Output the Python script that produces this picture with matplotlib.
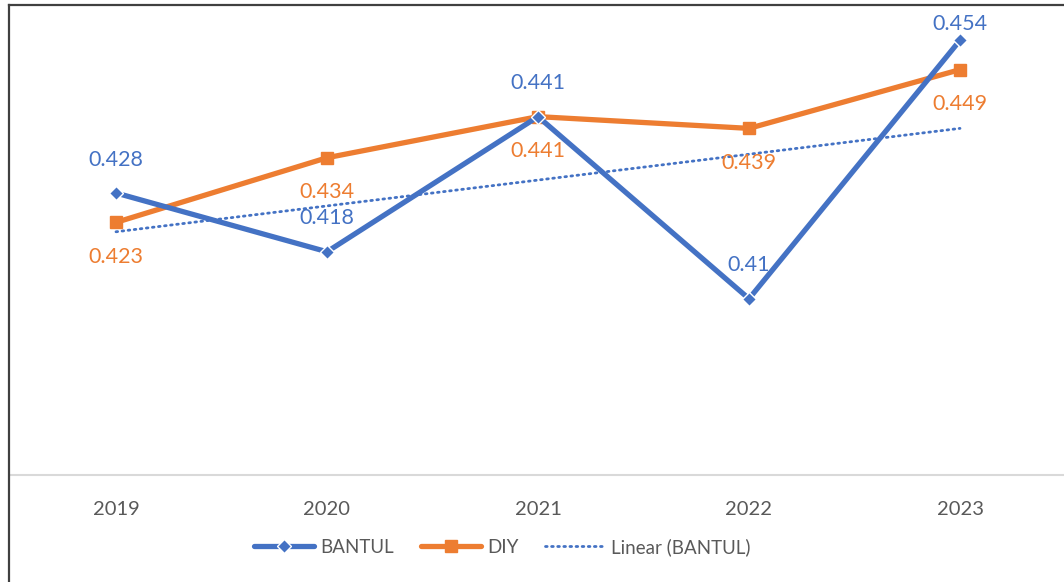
import numpy as np
import matplotlib.pyplot as plt
from matplotlib.lines import Line2D

years = ["2019", "2020", "2021", "2022", "2023"]
bantul = [0.428, 0.418, 0.441, 0.41, 0.454]
diy = [0.423, 0.434, 0.441, 0.439, 0.449]

BLUE = "#4472C4"
ORANGE = "#ED7D31"
GREY_TXT = "#595959"

plt.rcParams["font.family"] = ["Lato", "DejaVu Sans"]

fig = plt.figure(figsize=(10.64, 5.82), dpi=100)
W, H = 1064, 582
ax = fig.add_axes([10.5 / W, (H - 475) / H, 1055 / W, 470 / H])

x = np.arange(1, len(years) + 1)

ax.plot(x, bantul, color=BLUE, lw=3.8, marker="D", ms=7,
        mfc=BLUE, mec="white", mew=1.0, solid_capstyle="round",
        label="BANTUL", zorder=4)
ax.plot(x, diy, color=ORANGE, lw=3.8, marker="s", ms=9,
        mfc=ORANGE, mec=ORANGE, solid_capstyle="round",
        label="DIY", zorder=3)

# linear trendline of BANTUL, like Excel's
k, b = np.polyfit(x, bantul, 1)
ax.plot(x, k * x + b, color=BLUE, lw=2.0, ls=(0, (0.6, 1.6)),
        dash_capstyle="round", label="Linear (BANTUL)", zorder=2)

# data labels
up_off = [24, 24, 24, 24, 12]
for xi, v, off in zip(x, bantul, up_off):
    ax.annotate(f"{v:g}", (xi, v), xytext=(0, off), textcoords="offset points",
                ha="center", va="center", color=BLUE, fontsize=15.5)
for xi, v in zip(x, diy):
    ax.annotate(f"{v:g}", (xi, v), xytext=(0, -25), textcoords="offset points",
                ha="center", va="center", color=ORANGE, fontsize=15.5)

ax.set_xlim(0.5, 5.5)
ax.set_ylim(0.38, 0.46)
ax.set_xticks(x)
ax.set_xticklabels(years, color=GREY_TXT, fontsize=14.5)
ax.set_yticks([])
ax.tick_params(axis="x", length=0, pad=19)
for s in ["top", "right", "left"]:
    ax.spines[s].set_visible(False)
ax.spines["bottom"].set_color("#D9D9D9")
ax.spines["bottom"].set_linewidth(1.5)
ax.patch.set_alpha(0)

# chart border (top and left visible)
fig.add_artist(Line2D([8.5 / W, 1], [1 - 4.5 / H, 1 - 4.5 / H], color="#404040", lw=1.6))
fig.add_artist(Line2D([8.5 / W, 8.5 / W], [0, 1 - 4.5 / H], color="#404040", lw=1.6))

fig.legend(loc="center", bbox_to_anchor=(502.5 / W, (H - 547) / H), ncol=3,
           frameon=False, fontsize=13.5, labelcolor=GREY_TXT,
           handlelength=3.2, columnspacing=1.4, handletextpad=0.35)

fig.savefig("out.png", dpi=100)
